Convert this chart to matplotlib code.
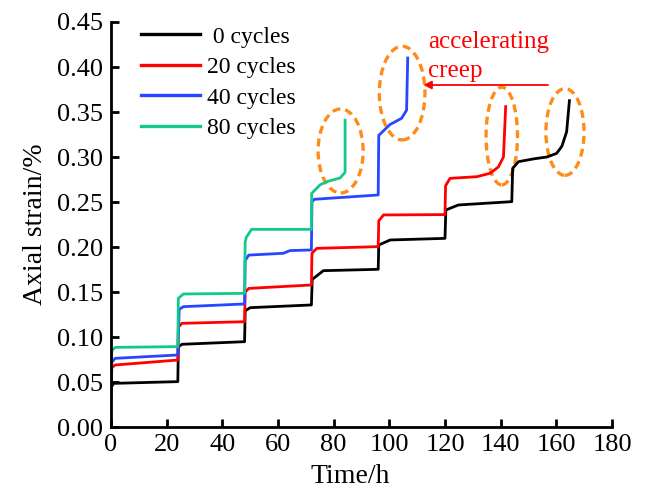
import matplotlib
matplotlib.use("Agg")
import matplotlib.pyplot as plt
from matplotlib.patches import Ellipse
from matplotlib.ticker import FormatStrFormatter

plt.rcParams['font.family'] = ['Liberation Serif', 'DejaVu Serif']

# ---- data ----
labels = [" 0 cycles", "20 cycles", "40 cycles", "80 cycles"]
colors = ["#000000", "#FF0000", "#2646FF", "#12C98B"]

t0 = [0, 0.4, 1, 24, 24.2, 25.5, 48, 48.2, 50, 72, 72.3, 76.3, 96, 96.2, 100.3,
      120, 120.3, 124.8, 144, 144.3, 146.4, 152, 156.6, 160.1, 162, 163.7, 164.7]
s0 = [0.042, 0.046, 0.0485, 0.0504, 0.089, 0.0919, 0.0948, 0.129, 0.1326, 0.1356,
      0.164, 0.1737, 0.1752, 0.2022, 0.2078, 0.2096, 0.2411, 0.2467,
      0.2504, 0.2874, 0.2948, 0.298, 0.300, 0.304, 0.312, 0.328, 0.3626]

t20 = [0, 0.3, 1.5, 24, 24.2, 25.5, 48, 48.2, 49.5, 72, 72.2, 73.9, 96, 96.2, 97.9,
       120, 120.2, 121.8, 131.4, 136.2, 139.2, 141, 141.8]
s20 = [0.032, 0.066, 0.0689, 0.0744, 0.111, 0.1152, 0.117, 0.150, 0.154, 0.1578,
       0.193, 0.1985, 0.2004, 0.229, 0.2356, 0.2360, 0.268, 0.2763, 0.2781, 0.2819,
       0.289, 0.300, 0.356]

t40 = [0, 0.3, 1.5, 24, 24.5, 26, 48, 48.2, 49.5, 61.9, 64.3, 72, 72.2, 73, 96,
       96.2, 100.2, 104.4, 106.2, 106.6]
s40 = [0.045, 0.072, 0.0763, 0.080, 0.1307, 0.1337, 0.1367, 0.185, 0.191, 0.193,
       0.196, 0.1967, 0.250, 0.253, 0.2578, 0.324, 0.336, 0.343, 0.352, 0.410]

t80 = [0, 0.3, 1.5, 24, 24.2, 26, 48, 48.2, 48.6, 50.5, 72, 72.1, 75.1, 77.5, 82.3,
       84.1, 84.1]
s80 = [0.060, 0.085, 0.0885, 0.0893, 0.143, 0.1478, 0.1485, 0.205, 0.2107, 0.2196,
       0.2196, 0.2596, 0.269, 0.2726, 0.2767, 0.283, 0.341]

series_t = [t0, t20, t40, t80]
series_s = [s0, s20, s40, s80]

# accelerating-creep ellipses: (x centre, y centre, width, height)
ell_x = [82.5, 104.6, 140.4, 163.1]
ell_y = [0.3067, 0.371, 0.3233, 0.3278]
ell_w = [16.2, 16.4, 11.3, 13.7]
ell_h = [0.0933, 0.104, 0.1086, 0.0963]

xticks = list(range(0, 181, 20))
yticks = [0.00, 0.05, 0.10, 0.15, 0.20, 0.25, 0.30, 0.35, 0.40, 0.45]

# ---- figure ----
fig = plt.figure(figsize=(6.46, 4.90), dpi=100)
ax = fig.add_axes([111/646, 1-427/490, (612-111)/646, (427-22)/490])

for t, s, c, lab in zip(series_t, series_s, colors, labels):
    ax.plot(t, s, color=c, lw=2.0, label=lab, solid_joinstyle='round')

for x, y, w, h in zip(ell_x, ell_y, ell_w, ell_h):
    ax.add_patch(Ellipse((x, y), w, h, fill=False, edgecolor="#FF8C1A",
                         lw=2.4, linestyle=(0, (2.4, 1.5))))

ax.annotate('', xy=(112.2, 0.380), xytext=(157, 0.380),
            arrowprops=dict(arrowstyle='-|>', color='red', lw=1.3,
                            mutation_scale=12, shrinkA=0, shrinkB=0))
ax.text(113.9, 0.440, "accelerating\ncreep", color='red', fontsize=18,
        va='top', ha='left', linespacing=1.42)

ax.set_xlim(0, 180)
ax.set_ylim(0, 0.45)
ax.set_xticks(xticks)
ax.set_yticks(yticks)
ax.yaxis.set_major_formatter(FormatStrFormatter('%.2f'))
for sp in ['top', 'right']:
    ax.spines[sp].set_visible(False)
for sp in ['left', 'bottom']:
    ax.spines[sp].set_linewidth(2.0)
ax.tick_params(direction='in', length=6, width=2.0, labelsize=19)
ax.tick_params(axis='x', pad=5)
ax.tick_params(axis='y', pad=6)

ax.set_xlabel("Time/h", fontsize=20)
ax.xaxis.set_label_coords(0.477, -0.092, transform=ax.transAxes)
ax.xaxis.label.set_va('top')
ax.set_ylabel("Axial strain/%", fontsize=20, labelpad=6)

leg = ax.legend(loc='upper left', bbox_to_anchor=(0.06, 0.99), frameon=False,
                fontsize=17, handlelength=2.5, handletextpad=0.3,
                labelspacing=0.38, borderpad=0, borderaxespad=0)
for line in leg.get_lines():
    line.set_linewidth(2.4)

fig.savefig("out.png", dpi=100)
